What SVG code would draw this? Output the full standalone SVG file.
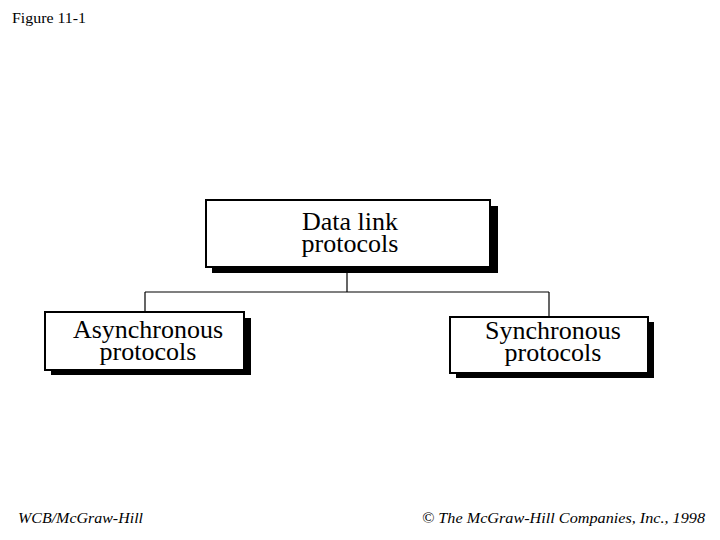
<svg xmlns="http://www.w3.org/2000/svg" width="720" height="540" viewBox="0 0 720 540">
<style>
.box{fill:#fff;stroke:#000;stroke-width:2}
.shadow{fill:#000}
.lbl{font-family:"Liberation Serif","Times New Roman",serif;font-size:26px;text-anchor:middle;fill:#000}
.conn{fill:none;stroke:#000;stroke-width:1.2}
.small{font-family:"Liberation Serif","Times New Roman",serif;font-size:14px;fill:#000}
</style>
<rect width="720" height="540" fill="#fff"/>
<text class="small" x="12" y="23" font-size="13" textLength="74" lengthAdjust="spacingAndGlyphs">Figure 11-1</text>
<g id="connectors">
<path class="conn" d="M347,267 V292 M145,292 H549 M145,292 V312 M549,292 V317"/>
</g>
<g id="data-link">
<rect class="shadow" x="212" y="206" width="286" height="67"/>
<rect class="box" x="206" y="200" width="284" height="67"/>
<text class="lbl" x="350" y="230">Data link</text>
<text class="lbl" x="350" y="252">protocols</text>
</g>
<g id="async">
<rect class="shadow" x="51" y="318" width="200" height="57"/>
<rect class="box" x="45" y="312" width="199" height="58"/>
<text class="lbl" x="148" y="338">Asynchronous</text>
<text class="lbl" x="148" y="360">protocols</text>
</g>
<g id="sync">
<rect class="shadow" x="456" y="322" width="198" height="56"/>
<rect class="box" x="450" y="317" width="198" height="56"/>
<text class="lbl" x="553" y="339">Synchronous</text>
<text class="lbl" x="553" y="361">protocols</text>
</g>
<text class="small" x="18" y="523" font-style="italic" textLength="125" lengthAdjust="spacingAndGlyphs">WCB/McGraw-Hill</text>
<text class="small" x="422" y="523" font-style="italic" textLength="283" lengthAdjust="spacingAndGlyphs">© The McGraw-Hill Companies, Inc., 1998</text>
</svg>
